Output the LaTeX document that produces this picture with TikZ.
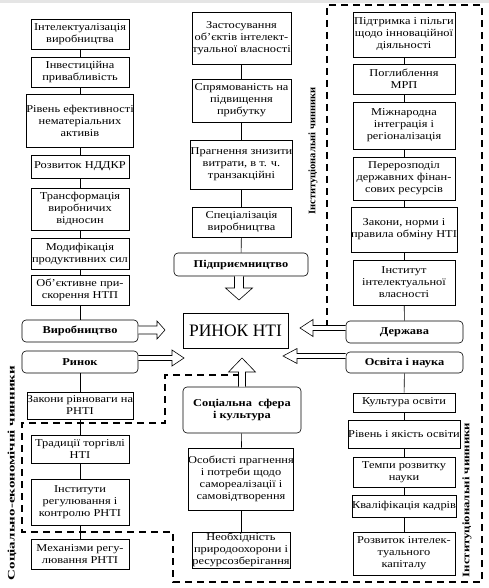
\documentclass[tikz,border=0pt]{standalone}
\usepackage{fontspec}
\setmainfont{Liberation Serif}
\newfontfamily\tnr{Liberation Serif}[FakeStretch=1.18]
\usetikzlibrary{calc}
\tikzset{
 box/.style={draw, line width=0.6pt, align=center, inner sep=0pt, font=\tnr\fontsize{10.5}{12}\selectfont},
 rbox/.style={draw, line width=0.6pt, rounded corners=4pt, align=center, inner sep=0pt, font=\tnr\bfseries\fontsize{10.5}{12}\selectfont},
 bigbox/.style={draw, line width=0.6pt, inner sep=0pt, font=\rmfamily\fontsize{17.5}{20}\selectfont},
 conn/.style={line width=0.6pt},
 blk/.style={draw, fill=white, line width=0.6pt, line join=miter},
 region/.style={line width=1.8pt, dash pattern=on 7pt off 5pt},
 rlabel/.style={rotate=90, font=\tnr\bfseries\fontsize{10}{12}\selectfont, inner sep=0pt}
}
\newcommand\bx[6]{\node[box,minimum width={(#3-#2)*1pt},minimum height={(#5-#4)*1pt}] (#1) at ({(#2+#3)/2},{(#4+#5)/2}) {#6};}
\newcommand\rbx[6]{\node[rbox,minimum width={(#3-#2)*1pt},minimum height={(#5-#4)*1pt}] (#1) at ({(#2+#3)/2},{(#4+#5)/2}) {#6};}
% block arrows: #1 start anchor, #2 tip coordinate, #3 shaft half, #4 head half, #5 head length
\newcommand\arrR[5]{\draw[blk] let \p1=(#1),\p2=(#2) in (\x1,\y2+#3) -- (\x2-#5,\y2+#3) -- (\x2-#5,\y2+#4) -- (\x2,\y2) -- (\x2-#5,\y2-#4) -- (\x2-#5,\y2-#3) -- (\x1,\y2-#3);}
\newcommand\arrL[5]{\draw[blk] let \p1=(#1),\p2=(#2) in (\x1,\y2+#3) -- (\x2+#5,\y2+#3) -- (\x2+#5,\y2+#4) -- (\x2,\y2) -- (\x2+#5,\y2-#4) -- (\x2+#5,\y2-#3) -- (\x1,\y2-#3);}
\newcommand\arrD[5]{\draw[blk] let \p1=(#1),\p2=(#2) in (\x2-#3,\y1) -- (\x2-#3,\y2+#5) -- (\x2-#4,\y2+#5) -- (\x2,\y2) -- (\x2+#4,\y2+#5) -- (\x2+#3,\y2+#5) -- (\x2+#3,\y1);}
\newcommand\arrU[5]{\draw[blk] let \p1=(#1),\p2=(#2) in (\x2-#3,\y1) -- (\x2-#3,\y2-#5) -- (\x2-#4,\y2-#5) -- (\x2,\y2) -- (\x2+#4,\y2-#5) -- (\x2+#3,\y2-#5) -- (\x2+#3,\y1);}
\begin{document}
\begin{tikzpicture}[x=1pt,y=-1pt]
\useasboundingbox (0,0) rectangle (489,588);
\fill[gray!20] (0,0) rectangle (489,3.5);
% left column
\bx{l1}{31}{129}{19}{49}{Інтелектуалізація\\виробництва}
\bx{l2}{31}{129}{57}{87}{Інвестиційна\\привабливість}
\bx{l3}{31}{129}{94}{147}{Рівень ефективності\\нематеріальних\\активів}
\bx{l4}{31}{129}{155}{178}{Розвиток НДДКР}
\bx{l5}{31}{129}{188}{230}{Трансформація\\виробничих\\відносин}
\bx{l6}{31}{129}{238}{269}{Модифікація\\продуктивних сил}
\bx{l7}{31}{129}{275}{305}{Об’єктивне при-\\скорення НТП}
\rbx{vyr}{22}{138}{320}{342}{Виробництво}
\rbx{rnk}{22}{138}{351}{373}{Ринок}
\bx{l8}{31}{129}{392}{419}{Закони рівноваги на\\РНТІ}
\bx{l9}{31}{129}{435}{463}{Традиції торгівлі\\НТІ}
\bx{l10}{31}{129}{479}{525}{Інститути\\регулювання і\\контролю РНТІ}
\bx{l11}{31}{129}{539}{569}{Механізми регу-\\лювання РНТІ}
% middle column
\bx{m1}{192}{291}{12}{64}{Застосування\\об’єктів інтелект-\\туальної власності}
\bx{m2}{192}{291}{79}{122}{Спрямованість на\\підвищення\\прибутку}
\bx{m3}{192}{291}{140}{189}{Прагнення знизити\\витрати, в т. ч.\\транзакційні}
\bx{m4}{192}{291}{207}{237}{Спеціалізація\\виробництва}
\rbx{pid}{174}{308}{253}{276}{Підприємництво}
\node[bigbox,minimum width=105pt,minimum height=35pt] (rynok) at (235.5,330.5) {РИНОК НТІ};
\rbx{soc}{183}{301}{387}{433}{Соціальна\ \ сфера\\і культура}
\bx{m5}{192}{290}{448}{510}{Особисті прагнення\\і потреби щодо\\самореалізації і\\самовідтворення}
\bx{m6}{192}{290}{532}{568}{Необхідність\\природоохорони і\\ресурсозберігання}
% right column
\bx{r1}{353}{455}{12}{57}{Підтримка і пільги\\щодо інноваційної\\діяльності}
\bx{r2}{353}{455}{64}{94}{Поглиблення\\МРП}
\bx{r3}{353}{455}{102}{149}{Міжнародна\\інтеграція і\\регіоналізація}
\bx{r4}{353}{455}{157}{200}{Перерозподіл\\державних фінан-\\сових ресурсів}
\bx{r5}{353}{455}{207}{252}{Закони, норми і\\правила обміну НТІ}
\bx{r6}{353}{455}{260}{305}{Інститут\\інтелектуальної\\власності}
\rbx{der}{346}{463}{321}{343}{Держава}
\rbx{osv}{346}{463}{352}{373}{Освіта і наука}
\bx{r7}{353}{455}{393}{412}{Культура освіти}
\bx{r8}{353}{455}{420}{448}{Рівень і якість освіти}
\bx{r9}{353}{455}{457}{487}{Темпи розвитку\\науки}
\bx{r10}{353}{455}{495}{517}{Кваліфікація кадрів}
\bx{r11}{353}{455}{532}{575}{Розвиток інтелек-\\туального\\капіталу}
% connectors
\foreach \a/\b in {l1/l2,l2/l3,l3/l4,l4/l5,l5/l6,l6/l7,l7/vyr,rnk/l8,l8/l9,l9/l10,l10/l11,
  m1/m2,m2/m3,m3/m4,m4/pid,soc/m5,m5/m6,
  r1/r2,r2/r3,r3/r4,r4/r5,r5/r6,r6/der,osv/r7,r7/r8,r8/r9,r9/r10,r10/r11}
  \draw[conn] (\a) -- (\b);
% dashed region
\draw[region] (240,375) -- (165,375) -- (165,423) -- (22,423) -- (22,532) -- (173,532) -- (173,582) -- (482,582) -- (482,5) -- (327,5) -- (327,325);
% block arrows
\coordinate (tA) at (165,330);
\coordinate (tB) at (184,358);
\coordinate (tC) at (300,328);
\coordinate (tD) at (283,356);
\coordinate (tE) at (239,300);
\coordinate (tF) at (242,358);
\arrR{vyr.east}{tA}{4pt}{9pt}{8pt}
\arrR{rnk.east}{tB}{2.5pt}{8pt}{12pt}
\arrL{der.west}{tC}{2.5pt}{8.5pt}{13pt}
\arrL{osv.west}{tD}{2.5pt}{7.5pt}{14pt}
\arrD{pid.south}{tE}{4.5pt}{13.5pt}{12pt}
\arrU{soc.north}{tF}{3.5pt}{13.5pt}{14pt}
% labels
\node[rlabel] (lab1) at (12,473) {\scalebox{1.27}[1]{Соціально-економічні чинники}};
\node[rlabel] (lab2) at (313,151) {\scalebox{0.89}[1]{Інституціональні чинники}};
\node[rlabel] (lab3) at (467,500) {\scalebox{1.08}[1]{Інституціональні чинники}};
\end{tikzpicture}
\end{document}
